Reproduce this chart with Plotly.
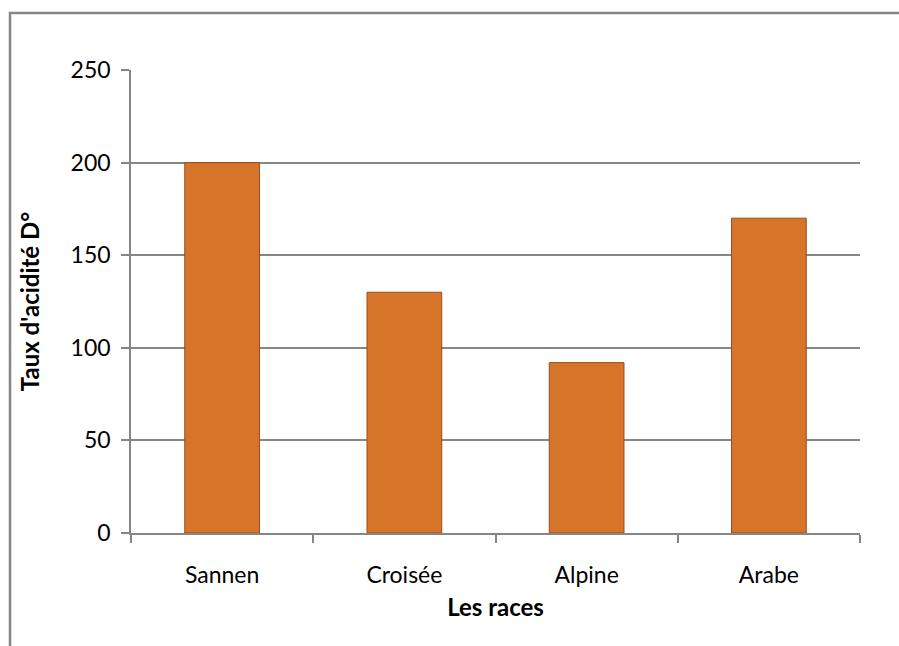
import plotly.graph_objects as go

categories = ["Sannen", "Croisée", "Alpine", "Arabe"]
values = [200, 130, 92, 170]
y_ticks = [0, 50, 100, 150, 200, 250]

W, H = 899, 646
L, R, T, B = 131, 39, 70, 113
pw = W - L - R
ph = H - T - B

fig = go.Figure(go.Bar(
    x=categories, y=values,
    marker=dict(color="#D6742A", line=dict(color="#9A4E18", width=1)),
    width=0.41,
))

font = "Lato, Carlito, Calibri, sans-serif"
fig.update_layout(
    width=W, height=H,
    margin=dict(l=L, r=R, t=T, b=B),
    paper_bgcolor="white", plot_bgcolor="white",
    font=dict(family=font, size=23, color="#000000"),
    showlegend=False,
    xaxis=dict(
        showline=True, linecolor="#868686", linewidth=1.5,
        ticks="outside", ticklen=8, tickcolor="#868686", tickwidth=1.5,
        tickson="boundaries", showgrid=False,
        ticklabelstandoff=21,
        title=dict(text="<b>Les races</b>", font=dict(size=24), standoff=12),
        tickfont=dict(size=23),
    ),
    yaxis=dict(
        range=[0, 250], tickvals=y_ticks,
        showline=True, linecolor="#868686", linewidth=1.5,
        ticks="outside", ticklen=8, tickcolor="#868686", tickwidth=1.5,
        showgrid=True, gridcolor="#868686", gridwidth=1.5,
        zeroline=False,
        ticklabelstandoff=6,
        title=dict(text="<b>Taux d'acidité D°</b>", font=dict(size=24), standoff=24),
        tickfont=dict(size=23),
    ),
    shapes=[dict(
        type="rect", xref="paper", yref="paper",
        x0=(10 - L) / pw, x1=(W + 20 - L) / pw,
        y0=-(H + 20 - T - ph) / ph, y1=(H - 13 - B) / ph,
        line=dict(color="#868686", width=2.5), fillcolor="rgba(0,0,0,0)",
        layer="below",
    )],
)

fig.write_html(
    "out.html",
    config={"displayModeBar": False},
    post_script="document.body.style.margin='0';document.body.style.overflow='hidden';",
)
